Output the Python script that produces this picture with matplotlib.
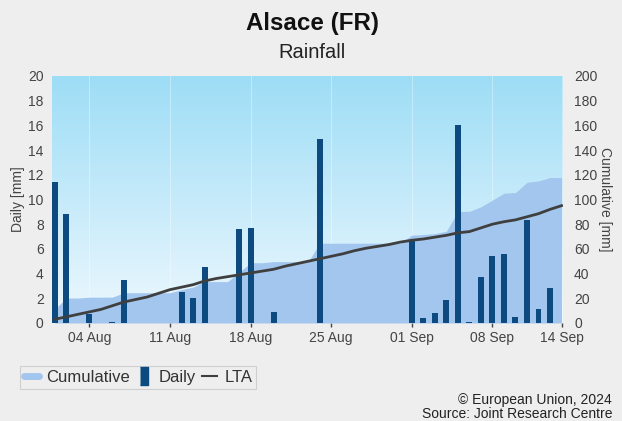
import numpy as np
import pandas as pd
import matplotlib
matplotlib.use("Agg")
import matplotlib.pyplot as plt
import matplotlib.dates as mdates
from matplotlib.lines import Line2D

plt.rcParams['font.family'] = ['Liberation Sans', 'DejaVu Sans']

# ---- data ----
dates = pd.date_range("2024-08-01", "2024-09-14", freq="D")
daily = [11.4, 8.8, 0.0, 0.7, 0.0, 0.1, 3.5, 0.0, 0.0, 0.0,
         0.0, 2.5, 2.0, 4.5, 0.0, 0.0, 7.6, 7.7, 0.0, 0.9,
         0.0, 0.0, 0.0, 14.9, 0.0, 0.0, 0.0, 0.0, 0.0, 0.0,
         0.0, 6.6, 0.4, 0.8, 1.9, 16.0, 0.1, 3.7, 5.4, 5.6,
         0.5, 8.3, 1.1, 2.8, 0.0]
cumulative = [11.4, 20.2, 20.2, 20.9, 20.9, 21.0, 24.5, 24.5, 24.5, 24.5,
              24.5, 27.0, 29.0, 33.5, 33.5, 33.5, 41.1, 48.8, 48.8, 49.7,
              49.7, 49.7, 49.7, 64.6, 64.6, 64.6, 64.6, 64.6, 64.6, 64.6,
              64.6, 71.2, 71.6, 72.4, 74.3, 90.3, 90.4, 94.1, 99.5, 105.1,
              105.6, 113.9, 115.0, 117.8, 117.8]
lta = [3, 5, 7, 9, 11, 14, 17, 19, 21, 24,
       27, 29, 31, 34, 36, 37.5, 39, 40.5, 42, 43.5,
       46, 48, 50, 52, 54, 56, 58.5, 60.5, 62, 63.5,
       65.5, 67, 68, 69.5, 71, 73, 74, 77, 80, 82,
       83.5, 86, 88.5, 92, 95]
xtick_dates = pd.to_datetime(["2024-08-04", "2024-08-11", "2024-08-18", "2024-08-25",
                              "2024-09-01", "2024-09-08", "2024-09-14"])
xtick_labels = ["04 Aug", "11 Aug", "18 Aug", "25 Aug", "01 Sep", "08 Sep", "14 Sep"]

# ---- style ----
bg = "#eeeeee"
fill_col = "#a3c6ee"
bar_col = "#0c4a80"
lta_col = "#3f3f3f"
txt_col = "#444444"

fig = plt.figure(figsize=(6.22, 4.21), dpi=100, facecolor=bg)
pos = [0.0836, 0.2328, 0.8214, 0.5867]
ax = fig.add_axes(pos)
ax2 = ax.twinx()

x0 = mdates.date2num(dates[0]) - 0.25
x1 = mdates.date2num(dates[-1]) + 0.12

# gradient background
grad = np.linspace(0, 1, 256).reshape(-1, 1)
top = np.array([157, 221, 246]) / 255
bot = np.array([238, 248, 254]) / 255
img = top[None, None, :] * (1 - grad[..., None]) + bot[None, None, :] * grad[..., None]
ax.imshow(img, extent=[x0, x1, 0, 20], aspect='auto', zorder=0, origin='upper')

ax.set_zorder(1)
ax2.set_zorder(2)
ax.patch.set_visible(False)
ax2.patch.set_visible(False)

# cumulative fill (right axis)
ax2.fill_between(dates, 0, cumulative, color=fill_col, lw=0, zorder=1)

# daily bars above the fill
ax3 = fig.add_axes(pos, sharex=ax)
ax3.patch.set_visible(False)
ax3.set_zorder(3)
ax3.bar(dates, daily, width=0.52, color=bar_col)
ax3.set_ylim(0, 20)
ax3.axis('off')

# LTA line above the bars
ax4 = fig.add_axes(pos, sharex=ax)
ax4.patch.set_visible(False)
ax4.set_zorder(4)
ax4.plot(dates, lta, color=lta_col, lw=2)
ax4.set_ylim(0, 200)
ax4.axis('off')

ax.set_xlim(x0, x1)
ax.set_ylim(0, 20)
ax2.set_ylim(0, 200)
ax.set_yticks(np.arange(0, 21, 2))
ax2.set_yticks(np.arange(0, 201, 20))
ax.set_xticks(mdates.date2num(xtick_dates))
ax.set_xticklabels(xtick_labels)

for a in (ax, ax2):
    for s in a.spines.values():
        s.set_visible(False)
ax.tick_params(axis='y', length=0, labelsize=10, labelcolor=txt_col, pad=6)
ax2.tick_params(axis='y', length=0, labelsize=10, labelcolor=txt_col, pad=8)
ax.tick_params(axis='x', length=3, width=1, color=txt_col, labelsize=10, labelcolor=txt_col, pad=3)
ax.grid(axis='x', color='white', alpha=0.35, lw=0.8)

ax.set_ylabel("Daily [mm]", fontsize=10, color=txt_col, va='center')
ax.yaxis.set_label_coords(-0.0665, 0.5)
ax2.set_ylabel("Cumulative [mm]", fontsize=10, color=txt_col, rotation=-90, va='center')
ax2.yaxis.set_label_coords(1.082, 0.5)

fig.text(0.502, 0.944, "Alsace (FR)", ha='center', va='center', fontsize=17.4,
         fontweight='bold', color='#111111')
fig.text(0.502, 0.876, "Rainfall", ha='center', va='center', fontsize=14.5, color='#222222')

handles = [
    Line2D([], [], color=fill_col, lw=5, solid_capstyle='round'),
    Line2D([], [], color=bar_col, lw=0, marker=[(-0.45, -1), (0.45, -1), (0.45, 1), (-0.45, 1)],
           markersize=13),
    Line2D([], [], color=lta_col, lw=1.5),
]
leg = fig.legend(handles, ["Cumulative", "Daily", "LTA"], loc='lower left',
                 bbox_to_anchor=(0.032, 0.076), borderaxespad=0, ncol=3, frameon=True,
                 fancybox=False, fontsize=12, handlelength=0.9, handletextpad=0.45,
                 columnspacing=0.35, borderpad=0.25, facecolor=bg, edgecolor='#c8c8c8',
                 labelcolor='#333333')
leg.get_frame().set_linewidth(0.8)

fig.text(0.984, 0.050, "© European Union, 2024", ha='right', va='center', fontsize=10,
         color='#222222')
fig.text(0.984, 0.0166, "Source: Joint Research Centre", ha='right', va='center', fontsize=10,
         color='#222222')

fig.savefig("out.png", dpi=100, facecolor=bg)
